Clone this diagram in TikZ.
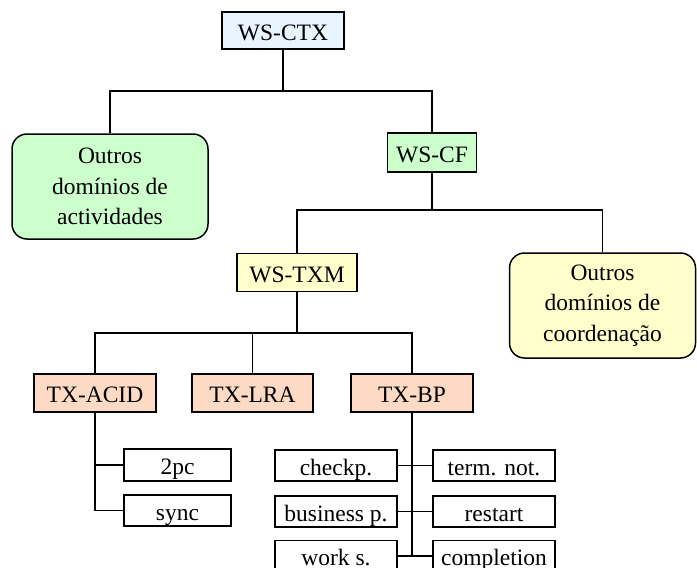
\documentclass[tikz,border=0pt]{standalone}
\usepackage{fontspec}
\setmainfont{Liberation Serif}
\definecolor{ctxblue}{RGB}{232,244,255}
\definecolor{cfgreen}{RGB}{204,255,204}
\definecolor{txmyellow}{RGB}{255,255,204}
\definecolor{txpeach}{RGB}{253,218,196}
\tikzset{
  box/.style={draw=black, line width=1.5pt, inner sep=0pt, align=center,
    font=\fontsize{23.5}{30.5}\selectfont},
  onel/.style={box, text height=19pt, text depth=0pt},
  bigbox/.style={box, rounded corners=15pt},
  leaf/.style={onel, fill=white, minimum width=122pt, minimum height=31pt},
  trunk/.style={line width=1.9pt},
  branch/.style={line width=1.1pt},
}
\begin{document}
\begin{tikzpicture}[x=1pt,y=-1pt]
\useasboundingbox (0,0) rectangle (697,568);

% top level
\node[onel, fill=ctxblue, minimum width=122pt, minimum height=37pt] (ctx) at (283,30.5) {WS-CTX};
\node[bigbox, fill=cfgreen, minimum width=196pt, minimum height=105pt] (act) at (110,186.5)
  {Outros\\domínios de\\actividades};
\node[onel, fill=cfgreen, minimum width=89pt, minimum height=39pt] (cf) at (432,152.5) {WS-CF};

% coordination level
\node[onel, fill=txmyellow, minimum width=120pt, minimum height=38pt] (txm) at (297,272.5) {WS-TXM};
\node[bigbox, fill=txmyellow, minimum width=186pt, minimum height=105pt] (coord) at (602.5,305.5)
  {Outros\\domínios de\\coordenação};

% transaction models
\node[onel, fill=txpeach, minimum width=122pt, minimum height=38pt] (acid) at (95,393) {TX-ACID};
\node[onel, fill=txpeach, minimum width=121pt, minimum height=38pt] (lra) at (252.5,393) {TX-LRA};
\node[onel, fill=txpeach, minimum width=122pt, minimum height=38pt] (bp) at (412,393) {TX-BP};

% protocols
\node[leaf, minimum width=107pt, minimum height=32pt] (twopc) at (177.5,465) {2pc};
\node[leaf, minimum width=107pt] (sync) at (177.5,510.5) {sync};
\node[leaf] (checkp) at (336,465.5) {checkp.};
\node[leaf] (termnot) at (494,465.5) {term. not.};
\node[leaf] (business) at (336,511.5) {business p.};
\node[leaf] (restart) at (494,511.5) {restart};
\node[leaf] (works) at (336,556) {work s.};
\node[leaf] (completion) at (494,556) {completion};

% junctions of the tree
\coordinate (j1) at (283,91);
\coordinate (j2) at (432,210);
\coordinate (j3) at (297,333);

% connectors
\draw[trunk] (ctx.south) -- (j1);
\draw[branch] (act.north) |- (j1) -| (cf.north);
\draw[trunk] (cf.south) -- (j2);
\draw[branch] (txm.north) |- (j2) -| (coord.north);
\draw[trunk] (txm.south) -- (j3);
\draw[branch] (acid.north) |- (j3) -| (bp.north);
\draw[branch] (lra.north) -- (lra.north |- j3);

\draw[trunk] (acid.south) -- (acid.south |- sync.west);
\draw[branch] (acid.south |- twopc.west) -- (twopc.west);
\draw[branch] (acid.south |- sync.west) -- (sync.west);

\draw[trunk] (bp.south) -- (bp.south |- works.east);
\draw[branch] (checkp.east) -- (termnot.west);
\draw[branch] (business.east) -- (restart.west);
\draw[branch] (works.east) -- (completion.west);
\end{tikzpicture}
\end{document}
